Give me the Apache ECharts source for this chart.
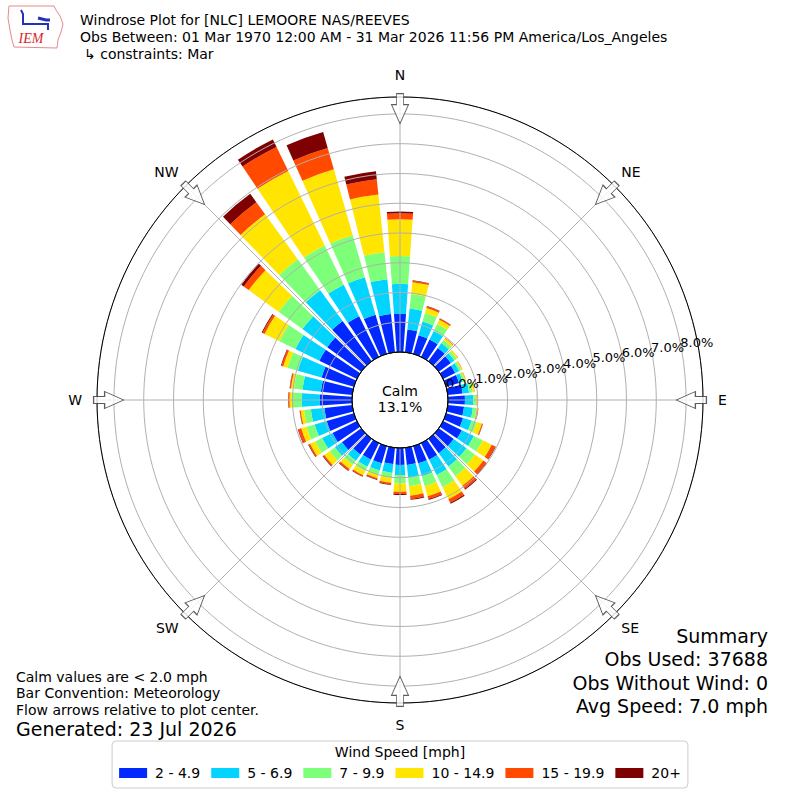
<!DOCTYPE html>
<html><head><meta charset="utf-8">
<script src="https://cdn.jsdelivr.net/npm/echarts@6/dist/echarts.min.js"></script>
<style>html,body{margin:0;padding:0;background:#fff}#c{width:800px;height:800px}</style>
</head><body><div id="c"></div>
<script>
// Directions (degrees, meteorological convention: direction wind blows FROM)
const directions = ['10','20','30','40','50','60','70','80','90','100','110','120','130','140','150','160','170','180',
  '190','200','210','220','230','240','250','260','270','280','290','300','310','320','330','340','350','360'];
const speedBins = ['2 - 4.9','5 - 6.9','7 - 9.9','10 - 14.9','15 - 19.9','20+'];
const bin2to5   = [0.77,0.65,0.65,0.55,0.50,0.45,0.45,0.50,0.57,0.55,0.59,0.70,0.62,0.60,0.62,0.60,0.58,0.57,0.55,0.60,0.62,0.65,0.80,0.91,0.95,0.94,1.08,1.06,1.13,1.40,1.41,1.67,1.52,1.37,1.29,1.28];
const bin5to7   = [0.71,0.48,0.32,0.20,0.15,0.15,0.13,0.22,0.28,0.30,0.30,0.45,0.53,0.55,0.57,0.45,0.42,0.34,0.30,0.25,0.26,0.26,0.29,0.39,0.42,0.46,0.61,0.62,0.83,0.90,1.03,1.28,1.18,1.31,1.18,1.01];
const bin7to10  = [0.49,0.30,0.26,0.13,0.10,0.08,0.07,0.13,0.09,0.12,0.18,0.33,0.35,0.40,0.46,0.35,0.30,0.28,0.17,0.15,0.17,0.18,0.22,0.26,0.29,0.23,0.30,0.29,0.36,0.60,0.99,1.28,1.46,1.47,0.91,0.94];
const bin10to15 = [0.40,0.17,0.16,0.07,0.05,0.04,0.04,0.05,0.03,0.05,0.18,0.34,0.35,0.40,0.45,0.35,0.32,0.28,0.16,0.12,0.15,0.17,0.22,0.19,0.18,0.11,0.11,0.10,0.15,0.55,1.24,1.87,2.79,2.30,1.95,1.23];
const bin15to20 = [0.05,0.06,0.04,0.02,0.01,0.01,0.01,0.01,0.01,0.02,0.03,0.13,0.13,0.13,0.13,0.10,0.11,0.08,0.06,0.04,0.04,0.06,0.05,0.05,0.10,0.03,0.04,0.04,0.06,0.08,0.21,0.50,0.90,0.75,0.52,0.20];
const bin20plus = [0.01,0.01,0.01,0.00,0.00,0.00,0.00,0.00,0.00,0.00,0.01,0.02,0.02,0.03,0.04,0.03,0.03,0.03,0.02,0.02,0.02,0.02,0.02,0.02,0.02,0.01,0.01,0.01,0.02,0.03,0.10,0.35,0.28,0.56,0.27,0.06];
const binValues = [bin2to5, bin5to7, bin7to10, bin10to15, bin15to20, bin20plus];
const compassLabels = ['N','NE','E','SE','S','SW','W','NW'];
const compassAngles = [0,45,90,135,180,225,270,315];
const radialTicks = [0,1,2,3,4,5,6,7,8];
const calmPercent = 13.1;
const obsUsed = 37688, obsWithoutWind = 0, avgSpeed = 7.0;

const colors = ['#0028ff','#00d4ff','#7dff7a','#ffe500','#ff4a00','#7f0000'];
const FONT = 'DejaVu Sans';
const RMAX = 8.57;
const CX = 400, CY = 400;

const chart = echarts.init(document.getElementById('c'), null, {renderer:'svg', width:800, height:800});

function txt(x, y, text, size, align, extra) {
  return Object.assign({type:'text', x:x, y:y, z:20, silent:true,
    style:Object.assign({text:text, fontSize:size, fontFamily:FONT, fill:'#000',
      textAlign:align||'left', align:align||'left', textVerticalAlign:'middle', verticalAlign:'middle'}, (extra||{}))});
}

function radiusLabelAxis(polarIndex, onlyZero) {
  return {polarIndex:polarIndex, type:'value', min:0, max:RMAX, interval:1, z:7,
    axisLine:{show:false}, axisTick:{show:false}, splitLine:{show:false},
    axisLabel:{show:true, showMinLabel:onlyZero ? true : false, showMaxLabel:true, margin:8, align:'left', verticalAlign:'middle',
      fontSize:13, color:'#000', fontFamily:FONT,
      formatter:function(v){
        const k = Math.round(v);
        if (radialTicks.indexOf(k) < 0 || Math.abs(v - k) > 1e-6) return '';
        if (onlyZero && k !== 0) return '';
        if (!onlyZero && k === 0) return '';
        return v.toFixed(1) + '%';
      }}};
}

const option = {
  animation:false,
  backgroundColor:'#fff',
  textStyle:{fontFamily:FONT},
  polar:[
    {center:[CX,CY], radius:[48,303]},
    {center:[CX,CY], radius:[48,303]},
    {center:[CX,CY], radius:[0,48]},
    {center:[CX,CY], radius:[48,303]},
    {center:[CX,CY], radius:[48,303]}
  ],
  angleAxis:[
    {polarIndex:0, type:'category', data:directions, startAngle:85, clockwise:true, boundaryGap:true, show:false},
    {polarIndex:1, type:'value', min:0, max:360, interval:45, startAngle:90, clockwise:true, z:5,
      axisLine:{show:true, lineStyle:{color:'#000', width:1}},
      axisTick:{show:false},
      splitLine:{show:true, lineStyle:{color:'#b0b0b0', width:1}},
      axisLabel:{show:true, margin:10, fontSize:14, color:'#000', fontFamily:FONT,
        rich:{c:{padding:[5,5,5,5], fontSize:14, color:'#000', fontFamily:FONT}, d:{fontSize:14, color:'#000', fontFamily:FONT}},
        formatter:function(v){
          if (v >= 360) return '';
          const i = Math.round(v/45);
          return (i % 2 === 0 ? '{c|' : '{d|') + compassLabels[i] + '}';
        }}},
    {polarIndex:2, type:'value', min:0, max:360, startAngle:90, z:6,
      axisLine:{show:true, lineStyle:{color:'#000', width:1}}, axisTick:{show:false}, axisLabel:{show:false}, splitLine:{show:false}},
    {polarIndex:3, type:'value', min:0, max:360, startAngle:10, show:false},
    {polarIndex:4, type:'value', min:0, max:360, startAngle:10, show:false}
  ],
  radiusAxis:[
    {polarIndex:0, type:'value', min:0, max:RMAX, show:false},
    {polarIndex:1, type:'value', min:0, max:RMAX, interval:1, z:5,
      axisLine:{show:false}, axisTick:{show:false}, axisLabel:{show:false},
      splitLine:{show:true, lineStyle:{color:'#b0b0b0', width:1}}},
    {polarIndex:2, type:'value', min:0, max:1, show:false},
    radiusLabelAxis(3, false),
    radiusLabelAxis(4, true)
  ],
  legend:{
    data:speedBins, left:'center', top:741, orient:'horizontal', icon:'rect',
    itemWidth:28, itemHeight:10, itemGap:11, selectedMode:false,
    borderColor:'#cccccc', borderWidth:1, borderRadius:4, backgroundColor:'#fff',
    padding:[25,7,8,7],
    textStyle:{fontSize:14, color:'#000', fontFamily:FONT, padding:[0,0,0,3]}
  },
  series: speedBins.map(function(name, i){
    return {type:'bar', name:name, coordinateSystem:'polar', polarIndex:0, stack:'wind',
      data:binValues[i], barCategoryGap:'20%', itemStyle:{color:colors[i]}, z:2, silent:true};
  }).concat([{
    type:'scatter', coordinateSystem:'polar', polarIndex:1, silent:true, z:8,
    symbol:'path://M5,0 L12,0 L12,11 L17,11 L8.5,30 L0,11 L5,11 Z', symbolSize:[17,30], symbolKeepAspect:false,
    itemStyle:{color:'#ffffff', borderColor:'#333', borderWidth:1},
    data: compassAngles.map(function(a){ return {value:[8.18, a], symbolRotate:-a}; })
  }]),
  graphic:[
    {type:'polygon', z:20, silent:true, shape:{points:[[9,6],[54,6],[56,10],[60,16],[63,24],[61,32],[58,40],[57,48],[14,47],[12,40],[10,30],[8,18]]},
      style:{fill:'none', stroke:'#e58a8a', lineWidth:1}},
    {type:'polyline', z:20, silent:true, shape:{points:[[21,10],[23,14],[23,24],[48,24],[48,30]]}, style:{stroke:'#2233bb', lineWidth:2, fill:'none'}},
    {type:'polyline', z:20, silent:true, shape:{points:[[38,18],[46,20],[50,20]]}, style:{stroke:'#2233bb', lineWidth:3, fill:'none'}},
    txt(31, 38, 'IEM', 14, 'center', {fill:'#d42a2a', fontStyle:'italic', fontFamily:'Liberation Serif'}),
    txt(80, 20, 'Windrose Plot for [NLC] LEMOORE NAS/REEVES', 14),
    txt(80, 37, 'Obs Between: 01 Mar 1970 12:00 AM - 31 Mar 2026 11:56 PM America/Los_Angeles', 14),
    txt(84, 54, '\u21b3 constraints: Mar', 14),
    txt(CX, 391, 'Calm', 14, 'center'),
    txt(CX, 407, calmPercent.toFixed(1) + '%', 14, 'center'),
    txt(16, 677, 'Calm values are < 2.0 mph', 14),
    txt(16, 693, 'Bar Convention: Meteorology', 14),
    txt(16, 710, 'Flow arrows relative to plot center.', 14),
    txt(16, 729, 'Generated: 23 Jul 2026', 19),
    txt(768, 636, 'Summary', 19, 'right'),
    txt(768, 659, 'Obs Used: ' + obsUsed, 19, 'right'),
    txt(768, 683, 'Obs Without Wind: ' + obsWithoutWind, 19, 'right'),
    txt(768, 706, 'Avg Speed: ' + avgSpeed.toFixed(1) + ' mph', 19, 'right'),
    txt(CX, 752, 'Wind Speed [mph]', 14, 'center')
  ]
};
chart.setOption(option);
</script></body></html>
